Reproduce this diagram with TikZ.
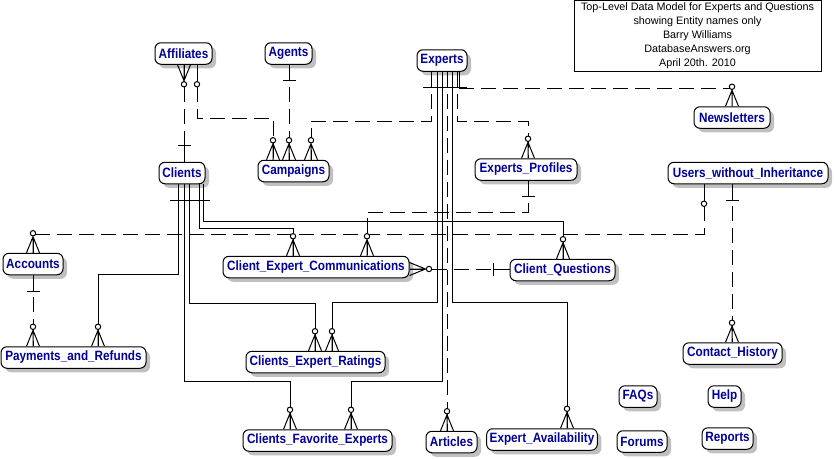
\documentclass[tikz,border=0pt]{standalone}
\usepackage{fontspec}
\setmainfont{Liberation Sans}
\newfontfamily\entfont[FakeStretch=0.87]{Liberation Sans}
\usetikzlibrary{shadows}
\definecolor{entblue}{RGB}{0,0,150}
\definecolor{shadowgray}{RGB}{192,192,192}
\tikzset{
 ent/.style={draw, line width=1pt, rounded corners=6pt, fill=white, minimum height=21.5pt,
   inner xsep=3pt, inner ysep=0pt, text=entblue, font=\entfont\fontsize{13.5}{14}\selectfont\bfseries,
   drop shadow={shadow xshift=4pt, shadow yshift=-4pt, fill=shadowgray, opacity=1}},
 rel/.style={line width=1pt},
 dsh/.style={line width=1pt, dash pattern=on 15pt off 7pt},
 crow/.pic={\draw[line width=1pt,solid] (-6.5,0) -- (0,-16) -- (6.5,0) (0,0) -- (0,-16);
            \draw[line width=1pt,solid,fill=white] (0,-19.5) circle (2.7pt);},
 zo/.pic={\draw[line width=1pt,solid] (0,0) -- (0,-16.8);
          \draw[line width=1pt,solid,fill=white] (0,-19.5) circle (2.7pt);},
 onebar/.pic={\draw[line width=1pt,solid] (0,0) -- (0,-16) (-6.5,-16) -- (6.5,-16);},
}
\begin{document}
\begin{tikzpicture}[x=1pt,y=-1pt]
\useasboundingbox (0,0) rectangle (834,458);

% title
\node[draw, line width=1pt, minimum width=247pt, minimum height=70.5pt, inner sep=0pt,
      align=center, font=\fontsize{10.8}{13.8}\selectfont] (title) at (697.5,35.75)
 {Top-Level Data Model for Experts and Questions\\showing Entity names only\\Barry Williams\\DatabaseAnswers.org\\April 20th. 2010};

% entities
\node[ent, minimum width=57pt]  (aff)  at (183.5,53.5) {Affiliates};
\node[ent, minimum width=47pt]  (agt)  at (288.5,53.5) {Agents};
\node[ent, minimum width=50pt]  (exp)  at (442,60.5)   {Experts};
\node[ent, minimum width=46pt]  (cli)  at (182,173)    {Clients};
\node[ent, minimum width=71pt]  (camp) at (293.5,171)  {Campaigns};
\node[ent, minimum width=76pt]  (nl)   at (732,117.5)  {Newsletters};
\node[ent, minimum width=102pt] (ep)   at (526,169.5)  {Experts\_Profiles};
\node[ent, minimum width=160pt] (usr)  at (748,173)    {Users\_without\_Inheritance};
\node[ent, minimum width=60pt]  (acc)  at (33,264)     {Accounts};
\node[ent, minimum width=186pt] (cec)  at (316,267)    {Client\_Expert\_Communications};
\node[ent, minimum width=105pt] (cq)   at (562.5,270)  {Client\_Questions};
\node[ent, minimum width=145pt] (pay)  at (73.5,357.5) {Payments\_and\_Refunds};
\node[ent, minimum width=139pt] (cer)  at (315.5,362)  {Clients\_Expert\_Ratings};
\node[ent, minimum width=149pt] (cfe)  at (317.5,440.5){Clients\_Favorite\_Experts};
\node[ent, minimum width=99pt]  (ch)   at (732.5,353.5){Contact\_History};
\node[ent, minimum width=38pt]  (faq)  at (638,396.5)  {FAQs};
\node[ent, minimum width=33pt]  (help) at (724.5,396.5){Help};
\node[ent, minimum width=50pt]  (for)  at (642,441.5)  {Forums};
\node[ent, minimum width=51pt]  (rep)  at (727.5,438.5){Reports};
\node[ent, minimum width=51pt]  (art)  at (451.5,442)  {Articles};
\node[ent, minimum width=110pt] (ea)   at (542,439.5)  {Expert\_Availability};

% connectors
% Affiliates - Clients
\draw[dsh] (184,0 |- aff.south) -- (184,0 |- cli.north);
% Affiliates - Campaigns
\draw[dsh] (197,0 |- aff.south) -- (197,118) -- (273,118) -- (273,0 |- camp.north);
% Agents - Campaigns
\draw[dsh] (289,0 |- agt.south) -- (289,0 |- camp.north);
% Experts - Campaigns
\draw[dsh] (431,0 |- exp.south) -- (431,121) -- (311,121) -- (311,0 |- camp.north);
% Experts - Newsletters
\draw[rel] (459,0 |- exp.south) -- (459,88);
\draw[dsh] (459,88) -- (732,88);
% Experts - Experts_Profiles
\draw[dsh] (457,0 |- exp.south) -- (457,121) -- (528,121) -- (528,0 |- ep.north);
% Experts - Clients_Expert_Ratings
\draw[rel] (437.5,0 |- exp.south) -- (437.5,302) -- (332,302) -- (332,0 |- cer.north);
% Experts - Clients_Favorite_Experts
\draw[rel] (442.5,0 |- exp.south) -- (442.5,381) -- (351,381) -- (351,0 |- cfe.north);
% Experts - Articles
\draw[dsh] (447,0 |- exp.south) -- (447,0 |- art.north);
% Experts - Expert_Availability
\draw[rel] (452.5,0 |- exp.south) -- (452.5,302) -- (567,302) -- (567,0 |- ea.north);
\draw[rel] (423,87.5) -- (467,87.5);
% Clients - Payments
\draw[rel] (178,0 |- cli.south) -- (178,274) -- (98,274) -- (98,0 |- pay.north);
% Clients - Favorite Experts
\draw[rel] (184,0 |- cli.south) -- (184,381) -- (290,381) -- (290,0 |- cfe.north);
% Clients - Expert Ratings
\draw[rel] (189,0 |- cli.south) -- (189,303) -- (315,303) -- (315,0 |- cer.north);
% Clients - CEC
\draw[rel] (199,0 |- cli.south) -- (199,228) -- (293,228) -- (293,0 |- cec.north);
% Clients - Client_Questions
\draw[rel] (203,0 |- cli.south) -- (203,221) -- (563,221) -- (563,0 |- cq.north);
\draw[rel] (170,200) -- (210,200);
% Experts_Profiles - CEC
\draw[dsh] (528,0 |- ep.south) -- (528,212) -- (367,212) -- (367,0 |- cec.north);
% Users - Accounts
\draw[dsh] (704,0 |- usr.south) -- (704,234) -- (33,234) -- (33,0 |- acc.north);
% Users - Contact_History
\draw[dsh] (732,0 |- usr.south) -- (732,0 |- ch.north);
% Accounts - Payments
\draw[dsh] (33,0 |- acc.south) -- (33,0 |- pay.north);
% CEC - Client_Questions
\draw[dsh] (cec.east |- 0,269) -- (cq.west |- 0,269);

% end marks
\pic[rotate=180] at (184,0 |- aff.south) {crow};
\pic at (184,0 |- cli.north) {onebar};
\pic[rotate=180] at (197,0 |- aff.south) {zo};
\pic at (273,0 |- camp.north) {crow};
\pic[rotate=180] at (289,0 |- agt.south) {onebar};
\pic at (289,0 |- camp.north) {crow};
\pic at (311,0 |- camp.north) {crow};
\pic at (732,0 |- nl.north) {crow};
\pic at (528,0 |- ep.north) {crow};
\pic at (332,0 |- cer.north) {crow};
\pic at (351,0 |- cfe.north) {crow};
\pic at (447,0 |- art.north) {crow};
\pic at (567,0 |- ea.north) {crow};
\pic at (98,0 |- pay.north) {crow};
\pic at (290,0 |- cfe.north) {crow};
\pic at (315,0 |- cer.north) {crow};
\pic at (293,0 |- cec.north) {crow};
\pic at (563,0 |- cq.north) {crow};
\pic[rotate=180] at (528,0 |- ep.south) {onebar};
\pic at (367,0 |- cec.north) {crow};
\pic[rotate=180] at (704,0 |- usr.south) {zo};
\pic at (33,0 |- acc.north) {crow};
\pic[rotate=180] at (732,0 |- usr.south) {onebar};
\pic at (732,0 |- ch.north) {crow};
\pic[rotate=180] at (33,0 |- acc.south) {onebar};
\pic at (33,0 |- pay.north) {crow};
\pic[rotate=-90] at (cec.east |- 0,269) {crow};
\pic[rotate=90] at (cq.west |- 0,269) {onebar};
\end{tikzpicture}
\end{document}
